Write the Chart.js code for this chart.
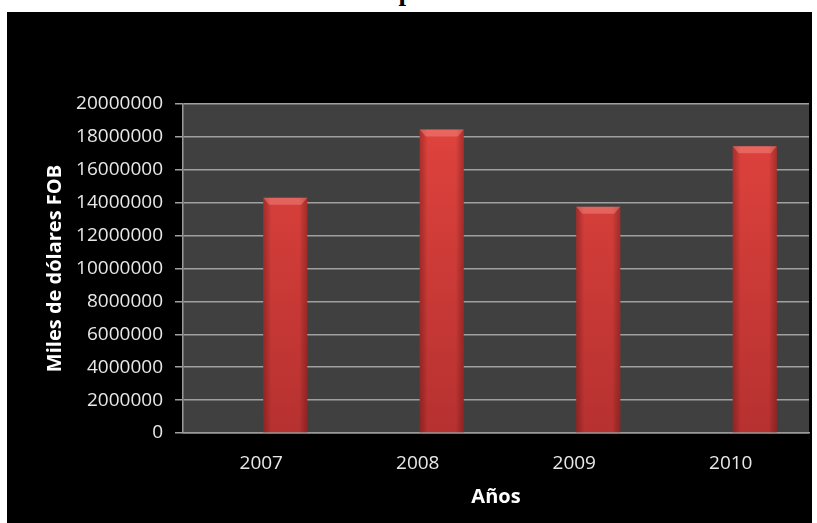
<!DOCTYPE html>
<html>
<head>
<meta charset="utf-8">
<script src="https://cdn.jsdelivr.net/npm/chart.js@4/dist/chart.umd.min.js"></script>
<style>
body { margin: 0; background: #ffffff; overflow: hidden; width: 817px; height: 523px; position: relative; }
#title { position: absolute; left: 0; top: -22px; width: 850px; text-align: center; white-space: nowrap;
         font: bold 27px/27px "Liberation Serif", serif; color: #000; }
#wrap { position: absolute; left: 7px; top: 12px; width: 805px; height: 511px; background: #000; }
</style>
</head>
<body>
<div id="title">Evolución de las Importaciones del Ecuador</div>
<div id="wrap"><canvas id="chart"></canvas></div>
<script>
// data
const years = ["2007", "2008", "2009", "2010"];
const imports = [14300000, 18450000, 13750000, 17430000];
const spacer = [null, null, null, null];
const yMax = 20000000;
const yStep = 2000000;

const fontFamily = "'Open Sans', sans-serif";

/**********/
// dark plot background
const plotBackground = {
    id: "plotBackground",
    beforeDraw(chart)
    {
        let a = chart.chartArea;
        let ctx = chart.ctx;
        ctx.save();
        ctx.fillStyle = "#404040";
        ctx.fillRect(a.left, a.top, a.right - a.left, a.bottom - a.top);
        ctx.restore();
    }
};

/**********/
// bevel and side shading on bars
const barBevel = {
    id: "barBevel",
    afterDatasetsDraw(chart)
    {
        let ctx = chart.ctx;
        let meta = chart.getDatasetMeta(1);
        ctx.save();
        for (let i = 0; i < meta.data.length; i++)
        {
            let bar = meta.data[i];
            let left = bar.x - bar.width / 2;
            let right = bar.x + bar.width / 2;
            let top = bar.y;
            let bottom = bar.base;

            let g = ctx.createLinearGradient(left, 0, right, 0);
            g.addColorStop(0, "rgba(60,0,0,0.3)");
            g.addColorStop(0.18, "rgba(0,0,0,0)");
            g.addColorStop(0.82, "rgba(0,0,0,0)");
            g.addColorStop(1, "rgba(60,0,0,0.3)");
            ctx.fillStyle = g;
            ctx.fillRect(left, top, right - left, bottom - top);

            ctx.beginPath();
            ctx.moveTo(left, top);
            ctx.lineTo(right, top);
            ctx.lineTo(right - 6, top + 7);
            ctx.lineTo(left + 6, top + 7);
            ctx.closePath();
            ctx.fillStyle = "rgba(255,170,160,0.35)";
            ctx.fill();
        }
        ctx.restore();
    }
};

/**********/
function barFill(context)
{
    let area = context.chart.chartArea;
    if (!area) { return "#d23a36"; }
    let g = context.chart.ctx.createLinearGradient(0, area.top, 0, area.bottom);
    g.addColorStop(0, "#e2443e");
    g.addColorStop(1, "#b63130");
    return g;
}

/**********/
const ctx = document.getElementById("chart");

new Chart(ctx,
{
    type: "bar",

    data:
    {
        labels: years,
        datasets: [
            { label: "", data: spacer },
            { label: "Importaciones", data: imports, backgroundColor: barFill, borderWidth: 0 }
        ]
    },

    options:
    {
        responsive: true,
        maintainAspectRatio: false,
        animation: false,
        categoryPercentage: 0.613,
        barPercentage: 0.917,
        layout: { padding: { top: 92, left: 0, right: 3, bottom: 0 } },
        plugins: { legend: { display: false }, tooltip: { enabled: false } },
        scales:
        {
            x:
            {
                grid: { display: false, drawTicks: false },
                border: { display: true, color: "#9a9a9a", width: 1.5 },
                ticks: { color: "#e8e8e8", padding: 19, font: { family: fontFamily, size: 19 } },
                title:
                {
                    display: true, text: "Años", color: "#ffffff",
                    font: { family: fontFamily, size: 20, weight: "bold" },
                    padding: { top: 0, bottom: 14 }
                },
                afterFit: function(scale) { scale.height = 90; }
            },
            y:
            {
                min: 0,
                max: yMax,
                grid: { color: "#a0a0a0", lineWidth: 1.5, tickLength: 8 },
                border: { display: true, color: "#9a9a9a", width: 1.5 },
                ticks:
                {
                    stepSize: yStep, color: "#e8e8e8", padding: 12,
                    font: { family: fontFamily, size: 19 },
                    callback: function(v) { return String(v); }
                },
                title:
                {
                    display: true, text: "Miles de dólares FOB", color: "#ffffff",
                    font: { family: fontFamily, size: 20, weight: "bold" },
                    padding: { top: 36, bottom: 0 }
                },
                afterFit: function(scale) { scale.width = 176; }
            }
        }
    },

    plugins: [plotBackground, barBevel]
});
</script>
</body>
</html>
